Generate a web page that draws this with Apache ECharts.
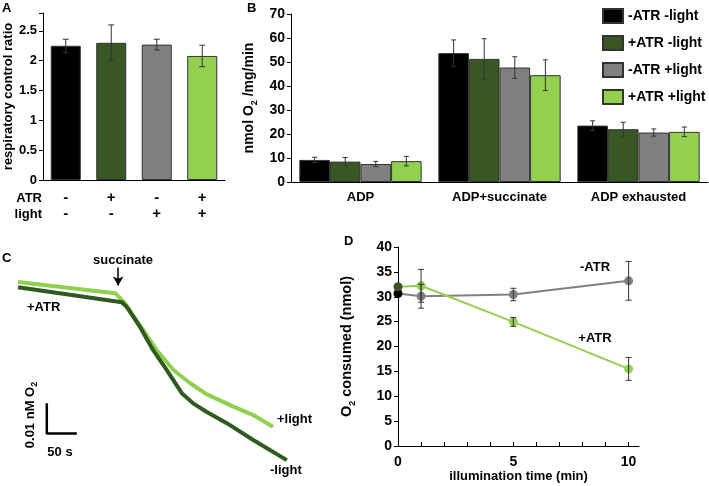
<!DOCTYPE html>
<html><head><meta charset="utf-8">
<script src="https://cdn.jsdelivr.net/npm/echarts@6/dist/echarts.min.js"></script>
<style>html,body{margin:0;padding:0;background:#fff}#c{width:709px;height:486px}</style>
</head><body><div id="c"></div>
<script>
// ---------- DATA ----------
const conditions = ['-ATR -light', '+ATR -light', '-ATR +light', '+ATR +light'];
const atrSigns = ['-', '+', '-', '+'];
const lightSigns = ['-', '-', '+', '+'];
// Panel A: respiratory control ratio
const rcrValues = [2.25, 2.30, 2.27, 2.08];
const rcrErrors = [0.11, 0.30, 0.09, 0.18];
// Panel B: nmol O2/mg/min
const bCategories = ['ADP', 'ADP+succinate', 'ADP exhausted'];
const bMinusATRMinusLight = [9.2, 53.7, 23.5];
const bPlusATRMinusLight = [8.5, 51.3, 22.0];
const bMinusATRPlusLight = [7.5, 47.7, 20.6];
const bPlusATRPlusLight = [8.7, 44.5, 20.9];
const bErrMinusATRMinusLight = [1.1, 5.5, 2.0];
const bErrPlusATRMinusLight = [1.7, 8.4, 2.9];
const bErrMinusATRPlusLight = [1.1, 4.5, 1.5];
const bErrPlusATRPlusLight = [2.0, 6.4, 2.0];
// Panel C: oxygen traces (time s, relative O2 nM)
const traceMinusLightT = [0, 173, 181, 203, 225, 248, 273, 292, 314, 348, 392, 448];
const traceMinusLightV = [0.0609, 0.0559, 0.0544, 0.0478, 0.0400, 0.0333, 0.0256, 0.0222, 0.0194, 0.0156, 0.0100, 0.0033];
const tracePlusLightT = [0, 162, 178, 203, 231, 259, 287, 314, 359, 392, 425];
const tracePlusLightV = [0.0626, 0.0589, 0.0556, 0.0483, 0.0400, 0.0333, 0.0289, 0.0253, 0.0211, 0.0183, 0.0144];
const scaleBarT = [48, 48, 98];
const scaleBarV = [0.0222, 0.0122, 0.0122];
const succinateTime = 167;
// Panel D: O2 consumed (nmol) vs illumination time (min)
const dTime = [0, 1, 5, 10];
const dMinusATR = [30.65, 30.1, 30.45, 33.2];
const dMinusATRErr = [0, 2.4, 1.25, 3.9];
const dPlusATR = [32.0, 32.2, 24.95, 15.5];
const dPlusATRErr = [0, 3.3, 0.9, 2.3];

// ---------- STYLE ----------
const FONT = '"Liberation Sans", Arial, sans-serif';
const condColors = ['#000000', '#385723', '#808080', '#92D050'];
const bold = {fontFamily: FONT, fontWeight: 'bold', color: '#000'};
function subRich(size) {
  return {
    b: {fontFamily: FONT, fontWeight: 'bold', fontSize: size, lineHeight: size + 5, color: '#000', verticalAlign: 'middle'},
    s: {fontFamily: FONT, fontWeight: 'bold', fontSize: 9, lineHeight: 9, color: '#000', verticalAlign: 'bottom'}
  };
}

function errSeries(axisIdx, vals, errs, seriesIdx, nSeries, gapFrac, isCat, cap) {
  return {
    type: 'custom', xAxisIndex: axisIdx, yAxisIndex: axisIdx, z: 10, silent: true,
    data: vals.map((v, i) => [isCat ? i : dTime[i], v, errs[i]]),
    renderItem: function (params, api) {
      const x0 = api.value(0), v = api.value(1), e = api.value(2);
      if (!e) return null;
      const c = api.coord([x0, v]);
      let x = c[0];
      if (isCat) {
        const band = api.size([1, 0])[0];
        const bw = band * (1 - gapFrac) / nSeries;
        x += (seriesIdx - (nSeries - 1) / 2) * bw;
      }
      const yt = api.coord([x0, v + e])[1];
      const yb = api.coord([x0, v - e])[1];
      const st = {stroke: '#333', lineWidth: 1};
      return {type: 'group', children: [
        {type: 'line', shape: {x1: x, y1: yt, x2: x, y2: yb}, style: st},
        {type: 'line', shape: {x1: x - cap, y1: yt, x2: x + cap, y2: yt}, style: st},
        {type: 'line', shape: {x1: x - cap, y1: yb, x2: x + cap, y2: yb}, style: st}
      ]};
    }
  };
}

const bVals = [bMinusATRMinusLight, bPlusATRMinusLight, bMinusATRPlusLight, bPlusATRPlusLight];
const bErrs = [bErrMinusATRMinusLight, bErrPlusATRMinusLight, bErrMinusATRPlusLight, bErrPlusATRPlusLight];

const axisLineBlack = {show: true, lineStyle: {color: '#000', width: 1}};
function txt(text, x, y, align, size) {
  return {type: 'text', x: x, y: y, style: {text: text, fontSize: size || 13, fill: '#000', fontFamily: FONT,
    fontWeight: 'bold', align: align || 'left', verticalAlign: 'middle'}};
}

const option = {
  animation: false,
  backgroundColor: '#fff',
  textStyle: {fontFamily: FONT},
  grid: [
    {left: 43, top: 13, width: 182, height: 167},
    {left: 291, top: 14, width: 417, height: 168},
    {left: 18, top: 265, width: 270, height: 205},
    {left: 398, top: 247, width: 241, height: 199}
  ],
  legend: {
    data: conditions, orient: 'vertical', left: 597, top: 3,
    itemWidth: 20, itemHeight: 14, itemGap: 11, icon: 'rect',
    textStyle: Object.assign({fontSize: 14}, bold)
  },
  xAxis: [
    {gridIndex: 0, type: 'category', data: conditions, axisLine: axisLineBlack, axisTick: {show: false},
     axisLabel: Object.assign({fontSize: 15, lineHeight: 16, margin: 10,
       formatter: (v, i) => atrSigns[i] + '\n' + lightSigns[i]}, bold)},
    {gridIndex: 1, type: 'category', data: bCategories, axisLine: axisLineBlack, axisTick: {show: false},
     axisLabel: Object.assign({fontSize: 13, margin: 9}, bold)},
    {gridIndex: 2, type: 'value', min: 0, max: 450, show: false},
    {gridIndex: 3, type: 'value', min: 0, max: 10.45, interval: 1,
     axisLine: axisLineBlack, axisTick: {show: true, inside: true, length: 4, lineStyle: {color: '#000'}},
     splitLine: {show: false},
     axisLabel: Object.assign({fontSize: 14, margin: 9, showMaxLabel: false,
       formatter: v => (Math.abs(v % 5) < 1e-9 ? String(v) : '')}, bold),
     name: 'illumination time (min)', nameLocation: 'middle', nameGap: 24,
     nameTextStyle: Object.assign({fontSize: 13}, bold)}
  ],
  yAxis: [
    {gridIndex: 0, type: 'value', min: 0, max: 2.8, interval: 0.5,
     axisLine: axisLineBlack, axisTick: {show: true, length: 4, lineStyle: {color: '#000'}},
     splitLine: {show: false},
     axisLabel: Object.assign({fontSize: 13, margin: 6,
       formatter: v => (Math.abs(v * 2 - Math.round(v * 2)) < 1e-6 ? String(v) : '')}, bold),
     name: 'respiratory control ratio', nameLocation: 'middle', nameGap: 28,
     nameTextStyle: Object.assign({fontSize: 13}, bold)},
    {gridIndex: 1, type: 'value', min: 0, max: 70, interval: 10,
     axisLine: axisLineBlack, axisTick: {show: true, length: 4, lineStyle: {color: '#000'}},
     splitLine: {show: false},
     axisLabel: Object.assign({fontSize: 14, margin: 6}, bold),
     name: '{b|nmol O}{s|2}{b| /mg/min}', nameLocation: 'middle', nameGap: 24,
     nameTextStyle: {rich: subRich(14)}},
    {gridIndex: 2, type: 'value', min: 0, max: 0.0683, show: false},
    {gridIndex: 3, type: 'value', min: 0, max: 40, interval: 5,
     axisLine: axisLineBlack, axisTick: {show: true, length: 4, lineStyle: {color: '#000'}},
     splitLine: {show: false},
     axisLabel: Object.assign({fontSize: 14, margin: 6}, bold),
     name: '{b|O}{s|2}{b| consumed (nmol)}', nameLocation: 'middle', nameGap: 41,
     nameTextStyle: {rich: subRich(14.5)}}
  ],
  series: [
    // Panel A
    {type: 'bar', name: 'respiratory control ratio', xAxisIndex: 0, yAxisIndex: 0, barWidth: '66%',
     itemStyle: {borderColor: '#333', borderWidth: 1},
     data: rcrValues.map((v, i) => ({value: v, itemStyle: {color: condColors[i]}}))},
    errSeries(0, rcrValues, rcrErrors, 0, 1, 0, true, 3),
    // Panel B
    ...bVals.map((vals, k) => ({
      type: 'bar', name: conditions[k], xAxisIndex: 1, yAxisIndex: 1,
      barGap: '0%', barCategoryGap: '12%',
      itemStyle: {color: condColors[k], borderColor: '#333', borderWidth: 1},
      data: vals
    })),
    ...bVals.map((vals, k) => errSeries(1, vals, bErrs[k], k, 4, 0.12, true, 2.5)),
    // Panel C
    {type: 'line', name: '-light', xAxisIndex: 2, yAxisIndex: 2, symbol: 'none',
     lineStyle: {color: '#2f5a20', width: 4}, z: 3,
     data: traceMinusLightT.map((t, i) => [t, traceMinusLightV[i]])},
    {type: 'line', name: '+light', xAxisIndex: 2, yAxisIndex: 2, symbol: 'none',
     lineStyle: {color: '#8fd14f', width: 4}, z: 2,
     data: tracePlusLightT.map((t, i) => [t, tracePlusLightV[i]])},
    {type: 'line', name: 'scale', xAxisIndex: 2, yAxisIndex: 2, symbol: 'none',
     lineStyle: {color: '#000', width: 2.5},
     data: scaleBarT.map((t, i) => [t, scaleBarV[i]]),
     markLine: {silent: true, symbol: ['none', 'arrow'], symbolSize: [8, 9],
       label: {show: false}, lineStyle: {color: '#000', width: 1.5, type: 'solid'},
       data: [[{coord: [succinateTime, 0.0675]}, {coord: [succinateTime, 0.0615]}]]}},
    // Panel D
    {type: 'line', name: '-ATR', xAxisIndex: 3, yAxisIndex: 3, symbol: 'circle', symbolSize: 9,
     lineStyle: {color: '#808080', width: 2}, itemStyle: {color: '#808080'}, z: 3,
     data: dTime.map((t, i) => i === 0 ? {value: [t, dMinusATR[i]], itemStyle: {color: '#000'}} : [t, dMinusATR[i]])},
    {type: 'line', name: '+ATR', xAxisIndex: 3, yAxisIndex: 3, symbol: 'circle', symbolSize: 9,
     lineStyle: {color: '#92D050', width: 2}, itemStyle: {color: '#92D050'}, z: 4,
     data: dTime.map((t, i) => i === 0 ? {value: [t, dPlusATR[i]], itemStyle: {color: '#385723'}} : [t, dPlusATR[i]])},
    errSeries(3, dMinusATR, dMinusATRErr, 0, 1, 0, false, 3),
    errSeries(3, dPlusATR, dPlusATRErr, 0, 1, 0, false, 3)
  ],
  graphic: [
    txt('A', 2, 8), txt('B', 247, 8), txt('C', 2, 258), txt('D', 344, 241),
    txt('ATR', 42, 198, 'right'), txt('light', 42, 214, 'right'),
    txt('+ATR', 27, 307), txt('succinate', 123, 260, 'center'),
    txt('+light', 277, 419), txt('-light', 270, 470), txt('50 s', 60, 452, 'center'),
    {type: 'text', x: 30, y: 415, rotation: Math.PI / 2,
     style: {text: '{b|0.01 nM O}{s|2}', rich: subRich(13), align: 'center', verticalAlign: 'middle'}},
    txt('-ATR', 595, 267, 'center'), txt('+ATR', 595, 338, 'center')
  ]
};
const chart = echarts.init(document.getElementById('c'), null, {renderer: 'canvas'});
chart.setOption(option);
</script></body></html>
